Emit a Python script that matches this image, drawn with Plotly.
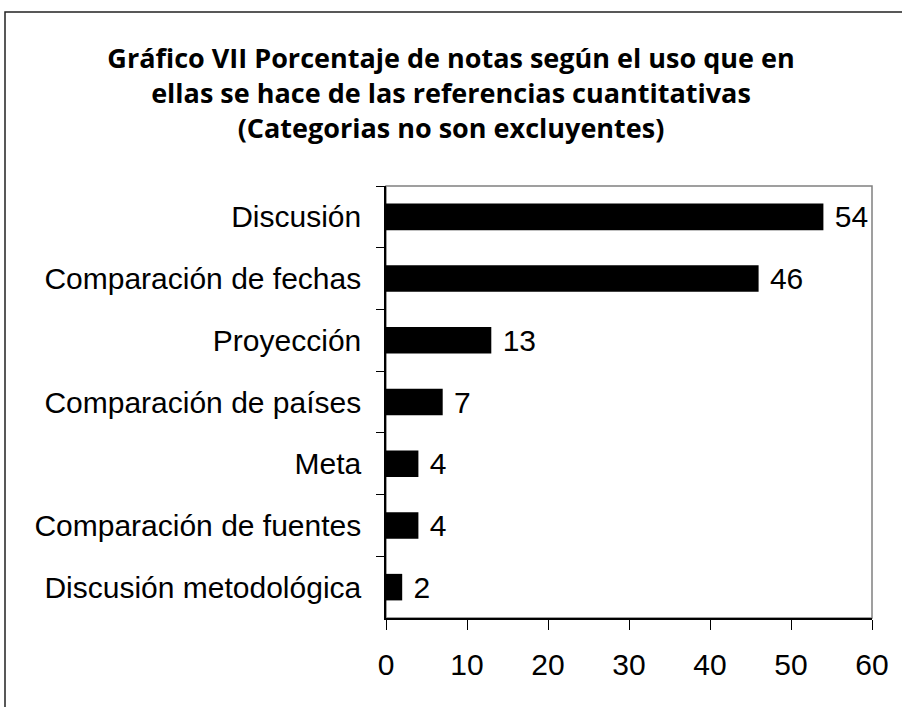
import plotly.graph_objects as go

categories = ["Discusión", "Comparación de fechas", "Proyección",
              "Comparación de países", "Meta", "Comparación de fuentes",
              "Discusión metodológica"]
values = [54, 46, 13, 7, 4, 4, 2]
x_ticks = [0, 10, 20, 30, 40, 50, 60]
title_lines = ["Gráfico VII Porcentaje de notas según el uso que en",
               "ellas se hace de las referencias cuantitativas",
               "(Categorias no son excluyentes)"]

W, H = 902, 707
ML, MR, MT, MB = 386, 30, 186, 89
pw, ph = W - ML - MR, H - MT - MB
FONT = "Liberation Sans, Arial, sans-serif"

def px_x(p):
    return (p - ML) / pw

def px_y(p):
    return (H - MB - p) / ph

fig = go.Figure()
fig.add_trace(go.Bar(
    x=values, y=categories, orientation="h",
    marker=dict(color="black", line=dict(width=0)),
    text=values, texttemplate=" %{x}", textposition="outside",
    textfont=dict(family=FONT, size=30, color="black"),
    constraintext="none",
    cliponaxis=False,
))

fig.update_layout(
    width=W, height=H,
    margin=dict(l=ML, r=MR, t=MT, b=MB),
    paper_bgcolor="white", plot_bgcolor="white",
    showlegend=False,
    bargap=0.57,
    font=dict(family=FONT, size=30, color="black"),
    title=dict(
        text="<br>".join(title_lines),
        x=0.5, xref="container", xanchor="center",
        y=1 - 68 / H, yref="container", yanchor="top",
        font=dict(family="Open Sans, sans-serif", size=27, color="black", weight="bold"),
    ),
    xaxis=dict(
        range=[0, 60], tickvals=x_ticks, showgrid=False, zeroline=False,
        showline=True, linecolor="black", linewidth=1.5,
        ticks="outside", ticklen=10, tickcolor="black", tickwidth=1,
        ticklabelstandoff=9,
        tickfont=dict(size=30),
    ),
    yaxis=dict(
        autorange="reversed", showgrid=False, zeroline=False,
        showline=True, linecolor="black", linewidth=1.5,
        ticks="outside", ticklen=8, tickcolor="black", tickwidth=1,
        tickson="boundaries", ticklabelstandoff=17,
        tickfont=dict(size=30),
    ),
    shapes=[
        dict(type="rect", xref="paper", yref="paper", x0=0, x1=1, y0=0, y1=1,
             line=dict(color="#808080", width=1.5), layer="below"),
        dict(type="rect", xref="paper", yref="paper",
             x0=px_x(5), x1=px_x(W + 10), y0=px_y(H + 10), y1=px_y(12),
             line=dict(color="#222222", width=1.5), layer="below"),
    ],
)

fig.write_html("out.html", config={"displayModeBar": False},
               post_script="document.body.style.margin='0';")
